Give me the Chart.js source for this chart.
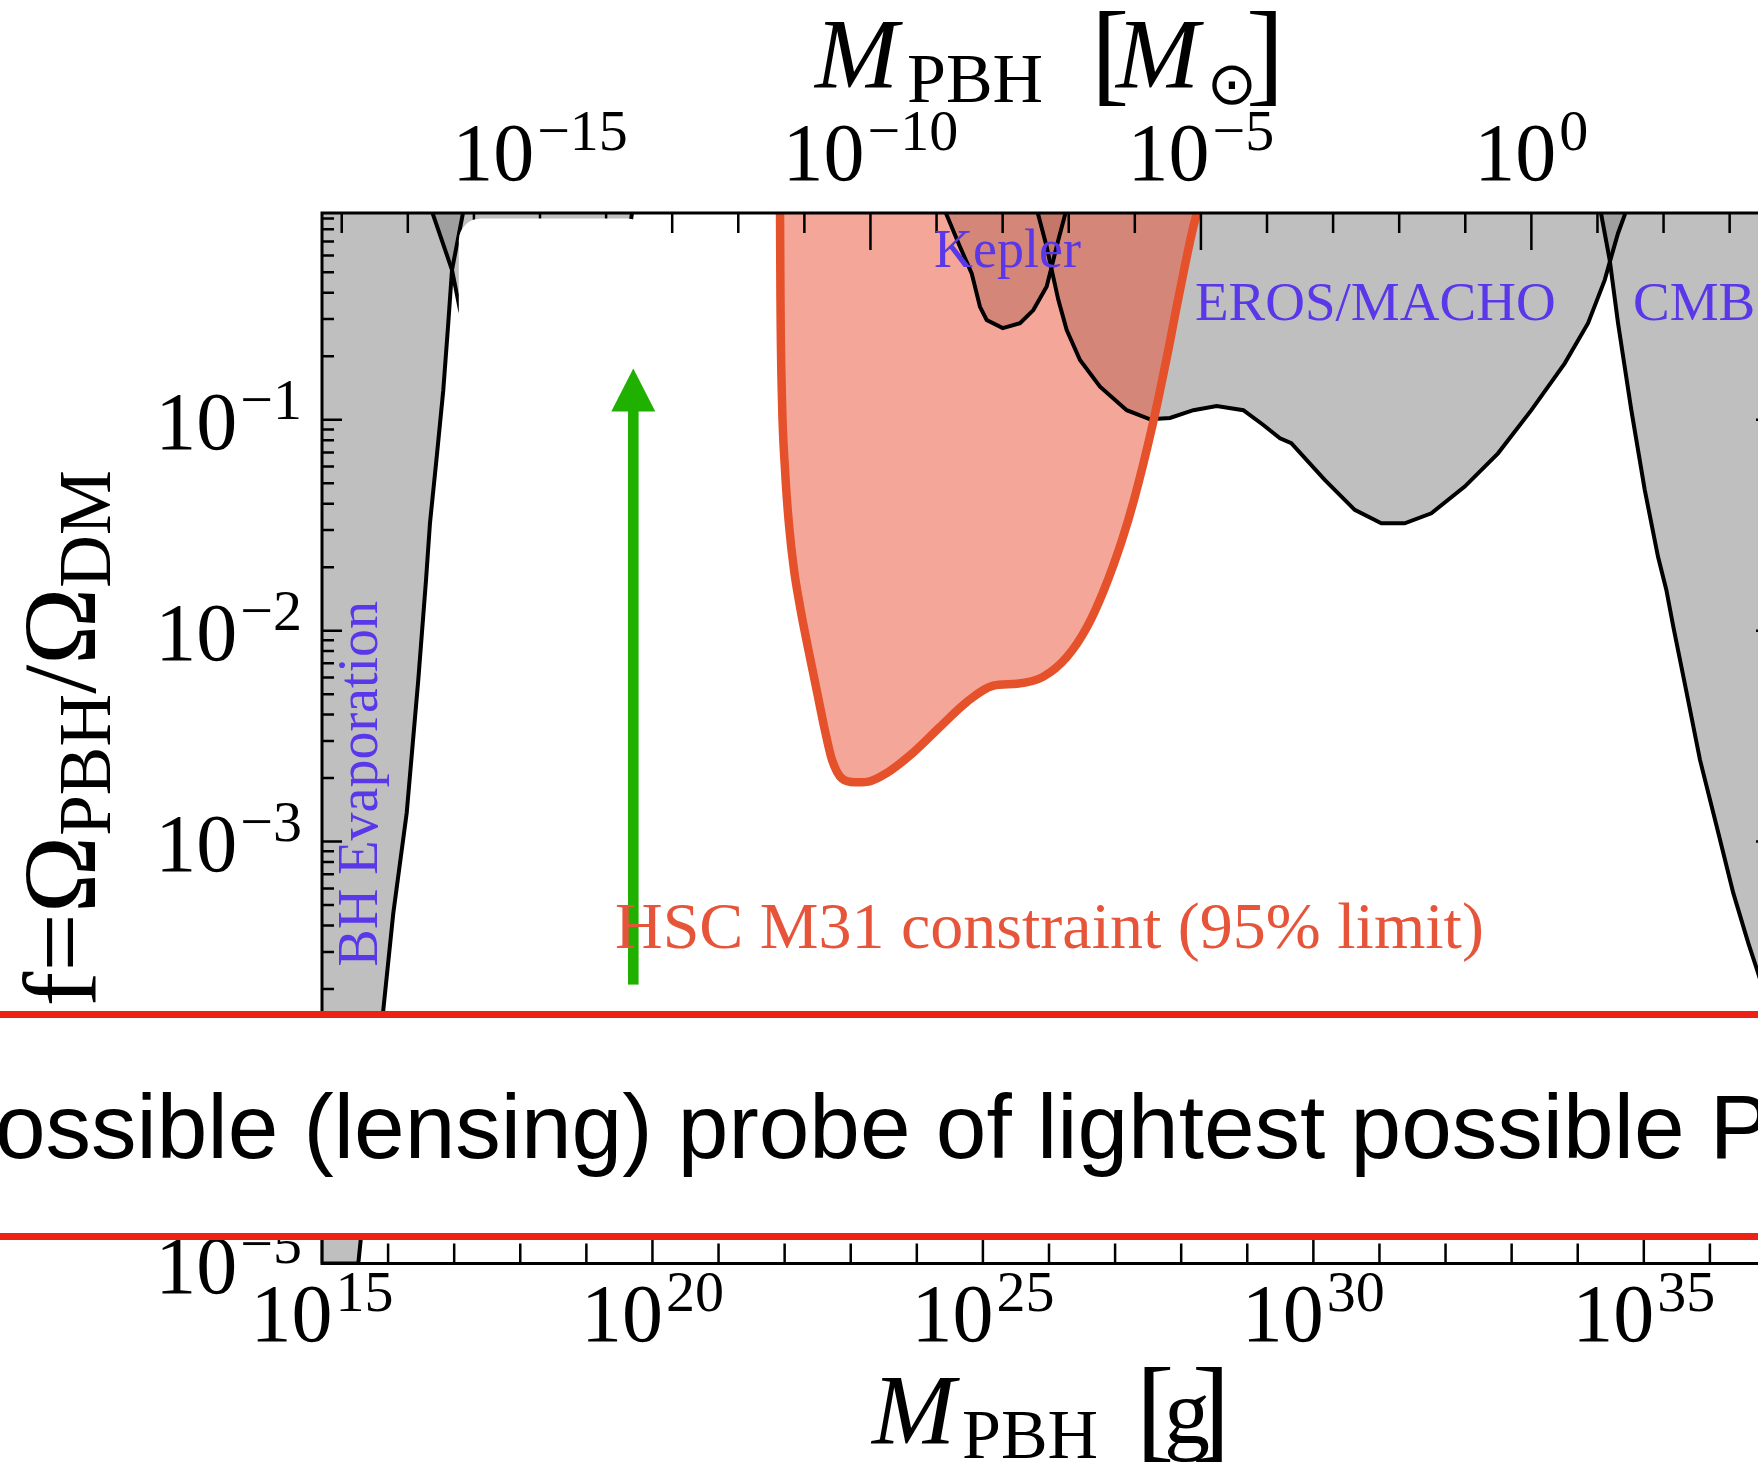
<!DOCTYPE html>
<html>
<head>
<meta charset="utf-8">
<script src="https://cdn.jsdelivr.net/npm/chart.js@4.4.1/dist/chart.umd.min.js"></script>
<style>
  html, body { margin: 0; padding: 0; background: #fff; overflow: hidden; }
  body { width: 1758px; height: 1464px; position: relative; }
  #wrap { position: absolute; left: 0; top: 0; width: 1800px; height: 1464px; }
  #band { position: absolute; left: 0; top: 1011px; width: 1758px; height: 229px; background: #fff; overflow: hidden; }
  .redline { position: absolute; left: 0; width: 100%; height: 7px; background: #ec2214; }
  #bandText { position: absolute; left: -5px; top: 70px; font-family: "Liberation Sans", Arial, sans-serif; font-size: 91px; line-height: 91px; white-space: nowrap; color: #000; }
</style>
</head>
<body>
<div id="wrap"><canvas id="pbhChart" width="1800" height="1464"></canvas></div>
<div id="band">
  <div class="redline" style="top:0"></div>
  <div id="bandText">ossible (lensing) probe of lightest possible P</div>
  <div class="redline" style="top:222px"></div>
</div>
<script>
const MSUN_G = 1.989e33;

// constraint curves: log10(M / g) and f = Omega_PBH / Omega_DM
const hscLogM = [21.93, 21.937, 21.96, 22.006, 22.066, 22.142, 22.233, 22.354, 22.49, 22.611, 22.717, 22.868, 23.065, 23.246, 23.549, 23.942, 24.351, 24.759, 25.153, 25.516, 25.909, 26.273, 26.575, 26.832, 27.105, 27.286, 27.574, 27.785, 27.982, 28.239, 28.27];
const hscF = [1.0, 0.37, 0.124, 0.0578, 0.0317, 0.0194, 0.013, 0.00828, 0.00513, 0.00335, 0.00244, 0.00199, 0.00191, 0.00192, 0.00212, 0.00264, 0.0035, 0.0046, 0.00548, 0.0056, 0.00604, 0.00752, 0.0104, 0.0156, 0.0269, 0.0417, 0.0966, 0.199, 0.412, 0.955, 1.0];

const keplerLogM = [24.411, 24.452, 24.653, 24.83, 24.956, 25.057, 25.3, 25.561, 25.763, 25.965, 26.041, 26.141, 26.242, 26.257];
const keplerF = [1.0, 0.934, 0.661, 0.494, 0.343, 0.297, 0.272, 0.287, 0.331, 0.428, 0.532, 0.711, 0.935, 1.0];

const erosLogM = [25.803, 25.838, 25.965, 26.041, 26.141, 26.268, 26.469, 26.772, 27.176, 27.528, 27.831, 28.184, 28.537, 28.94, 29.243, 29.495, 29.666, 30.172, 30.626, 31.028, 31.382, 31.785, 32.29, 32.794, 33.298, 33.803, 34.156, 34.408, 34.508, 34.61, 34.711, 34.738];
const erosF = [1.0, 0.935, 0.661, 0.513, 0.37, 0.266, 0.192, 0.1435, 0.111, 0.1005, 0.102, 0.111, 0.116, 0.111, 0.0944, 0.0817, 0.0774, 0.0519, 0.0374, 0.0323, 0.0323, 0.036, 0.0482, 0.0693, 0.111, 0.185, 0.287, 0.459, 0.593, 0.766, 0.935, 1.0];

const cmbLogM = [34.345, 34.357, 34.484, 34.61, 34.811, 35.014, 35.215, 35.341, 35.446, 35.649, 35.85, 36.103, 36.354, 36.581, 36.713, 37.0];
const cmbF = [1.0, 0.935, 0.571, 0.287, 0.111, 0.0465, 0.0224, 0.0156, 0.01044, 0.00506, 0.00244, 0.00118, 0.00057, 0.00033, 0.000247, 0.000127];

const bhEvapLogM = [15.0, 15.549, 15.741, 15.928, 16.079, 16.282, 16.457, 16.574, 16.634, 16.736, 16.835, 16.911, 16.967, 17.133, 17.145];
const bhEvapF = [1e-5, 1e-5, 3.86e-5, 1.6e-4, 4.59e-4, 1.37e-3, 5.85e-3, 0.0174, 0.0324, 0.0667, 0.138, 0.288, 0.513, 0.955, 1.0];

// constraint that is mostly covered by the white patch in the picture
const coveredLogM = [16.65, 16.967, 17.088, 17.315, 17.618, 17.996, 18.6, 19.206, 19.5, 19.7];
const coveredF = [1.0, 0.513, 0.331, 0.2, 0.14, 0.125, 0.125, 0.16, 0.37, 1.0];

// axes
const xRangeLog = [15, 37];
const yRange = [1e-5, 0.955];
const gramTickExps = [15, 20, 25, 30, 35];
const sunTickExps = [-15, -10, -5, 0];
const fTickExps = [-1, -2, -3, -4, -5];

// annotations (log10 M, f)
const arrowLogM = 19.71;
const arrowF = [2.1e-4, 0.175];
const patchLogM = [17.07, 19.95];
const patchF = [0.9, 0.11];

const SERIF = '"Liberation Serif", "DejaVu Serif", serif';
const BLUE = "#5a37e8";
const GRAY = "rgba(128,128,128,0.5)";

const regionLabels = [
  { text: "Kepler", logM: 24.26, f: 0.53, size: 54, color: BLUE },
  { text: "EROS/MACHO", logM: 28.209, f: 0.297, size: 55, color: BLUE },
  { text: "CMB", logM: 34.836, f: 0.297, size: 55, color: BLUE },
  { text: "HSC M31 constraint (95% limit)", logM: 19.433, f: 3.14e-4, size: 66, color: "#e6553a" },
  { text: "BH Evaporation", logM: 15.832, f: 2.56e-4, size: 56, color: BLUE, rotate: true },
];

const toPts = (lm, f) => lm.map((m, i) => ({ x: 10 ** m, y: f[i] }));

function region(label, lm, f, extra) {
  return Object.assign({
    label: label,
    data: toPts(lm, f),
    borderColor: "#000",
    borderWidth: 4,
    backgroundColor: GRAY,
    fill: "end",
    pointRadius: 0,
    tension: 0,
  }, extra);
}

const minus = (n) => (n < 0 ? "\u2212" + (-n) : String(n));

function powLabel(ctx, exp, x, yb, align) {
  const baseFont = "82px " + SERIF, expFont = "58px " + SERIF;
  ctx.font = baseFont;
  const w1 = ctx.measureText("10").width;
  ctx.font = expFont;
  const w2 = ctx.measureText(exp).width;
  const tot = w1 + 3 + w2;
  const x0 = align === "right" ? x - tot : x - tot / 2;
  ctx.textAlign = "left";
  ctx.font = baseFont;
  ctx.fillText("10", x0, yb);
  ctx.font = expFont;
  ctx.fillText(exp, x0 + w1 + 3, yb - 30);
}

function drawRuns(ctx, parts, x, y) {
  let cx = x;
  for (const p of parts) {
    ctx.font = p.font;
    ctx.fillText(p.text, cx, y + (p.dy || 0));
    cx += ctx.measureText(p.text).width;
  }
}
function runsWidth(ctx, parts) {
  let w = 0;
  for (const p of parts) { ctx.font = p.font; w += ctx.measureText(p.text).width; }
  return w;
}

const pbhAxes = {
  id: "pbhAxes",
  afterDraw(chart) {
    const { ctx, chartArea: a, scales: { x, y } } = chart;
    ctx.save();
    ctx.textBaseline = "alphabetic";

    // ticks, pointing inwards
    ctx.strokeStyle = "#000";
    ctx.lineWidth = 2.5;
    ctx.beginPath();
    for (let e = xRangeLog[0]; e <= xRangeLog[1]; e++) {
      const px = x.getPixelForValue(10 ** e);
      const len = e % 5 === 0 ? 37 : 20;
      ctx.moveTo(px, a.bottom); ctx.lineTo(px, a.bottom - len);
    }
    for (let e = -18; e <= 3; e++) {
      const px = x.getPixelForValue(10 ** e * MSUN_G);
      if (px < a.left || px > a.right) continue;
      const len = e % 5 === 0 ? 37 : 20;
      ctx.moveTo(px, a.top); ctx.lineTo(px, a.top + len);
    }
    for (let e = -5; e <= 0; e++) {
      for (let k = 1; k <= 9; k++) {
        const v = k * 10 ** e;
        if (v < yRange[0] * 0.999 || v > yRange[1]) continue;
        const py = y.getPixelForValue(v);
        const len = k === 1 ? 20 : 12;
        ctx.moveTo(a.left, py); ctx.lineTo(a.left + len, py);
        ctx.moveTo(a.right, py); ctx.lineTo(a.right - len, py);
      }
    }
    ctx.stroke();

    // frame
    ctx.lineWidth = 3;
    ctx.strokeRect(a.left, a.top, a.right - a.left, a.bottom - a.top);

    // white patch hiding part of the plot
    const px0 = x.getPixelForValue(10 ** patchLogM[0]);
    const px1 = x.getPixelForValue(10 ** patchLogM[1]);
    const py0 = y.getPixelForValue(patchF[0]);
    const py1 = y.getPixelForValue(patchF[1]);
    ctx.fillStyle = "#fff";
    ctx.beginPath();
    ctx.roundRect(px0, py0, px1 - px0, py1 - py0, 22);
    ctx.fill();

    // green arrow
    const ax = x.getPixelForValue(10 ** arrowLogM);
    const ay0 = y.getPixelForValue(arrowF[0]);
    const ay1 = y.getPixelForValue(arrowF[1]);
    ctx.fillStyle = "#1fb000";
    ctx.fillRect(ax - 5.3, ay1 + 40, 10.6, ay0 - ay1 - 40);
    ctx.beginPath();
    ctx.moveTo(ax, ay1);
    ctx.lineTo(ax + 22, ay1 + 43);
    ctx.lineTo(ax - 22, ay1 + 43);
    ctx.closePath();
    ctx.fill();

    // tick labels
    ctx.fillStyle = "#000";
    for (const e of gramTickExps) powLabel(ctx, String(e), x.getPixelForValue(10 ** e), a.bottom + 77, "center");
    for (const e of sunTickExps) powLabel(ctx, minus(e), x.getPixelForValue(10 ** e * MSUN_G), a.top - 33, "center");
    for (const e of fTickExps) powLabel(ctx, minus(e), a.left - 20, y.getPixelForValue(10 ** e) + 29, "right");

    // axis titles
    const it100 = "italic 100px " + SERIF, r70 = "70px " + SERIF, br = "115px " + SERIF;
    ctx.textAlign = "left";
    ctx.font = it100; ctx.fillText("M", 815, 87);
    ctx.font = r70; ctx.fillText("PBH", 907, 102);
    ctx.font = br; ctx.fillText("[", 1091, 91);
    ctx.font = it100; ctx.fillText("M", 1116, 87);
    ctx.font = '60px "DejaVu Sans", sans-serif'; ctx.textAlign = "center"; ctx.fillText("\u2299", 1232, 104);
    ctx.font = br; ctx.textAlign = "left"; ctx.fillText("]", 1246, 91);

    ctx.font = it100; ctx.fillText("M", 872, 1443);
    ctx.font = r70; ctx.fillText("PBH", 962, 1458);
    ctx.font = br; ctx.fillText("[", 1136, 1447);
    ctx.font = "92px " + SERIF; ctx.fillText("g", 1164, 1443);
    ctx.font = br; ctx.fillText("]", 1192, 1447);

    const r104 = "104px " + SERIF, r73 = "73px " + SERIF;
    const yTitle = [
      { text: "f", font: r104 }, { text: "=", font: r104 }, { text: "\u03A9", font: r104 },
      { text: "PBH", font: r73, dy: 15 }, { text: "/", font: r104 }, { text: "\u03A9", font: r104 },
      { text: "DM", font: r73, dy: 15 },
    ];
    ctx.save();
    ctx.translate(95, (a.top + a.bottom) / 2);
    ctx.rotate(-Math.PI / 2);
    ctx.textAlign = "left";
    drawRuns(ctx, yTitle, -runsWidth(ctx, yTitle) / 2, 0);
    ctx.restore();

    // region labels
    for (const l of regionLabels) {
      const lx = x.getPixelForValue(10 ** l.logM), ly = y.getPixelForValue(l.f);
      ctx.font = l.size + "px " + SERIF;
      ctx.fillStyle = l.color;
      ctx.textAlign = "left";
      if (l.rotate) {
        ctx.save();
        ctx.translate(lx, ly);
        ctx.rotate(-Math.PI / 2);
        ctx.fillText(l.text, 0, 0);
        ctx.restore();
      } else {
        ctx.fillText(l.text, lx, ly);
      }
    }
    ctx.restore();
  },
};

new Chart(document.getElementById("pbhChart"), {
  type: "line",
  data: {
    datasets: [
      region("HSC M31", hscLogM, hscF, {
        borderColor: "#e5512a",
        borderWidth: 8.5,
        backgroundColor: "rgba(233,79,49,0.5)",
        cubicInterpolationMode: "monotone",
      }),
      region("Kepler", keplerLogM, keplerF),
      region("EROS/MACHO", erosLogM, erosF),
      region("CMB", cmbLogM, cmbF),
      region("BH Evaporation", bhEvapLogM, bhEvapF),
      region("covered", coveredLogM, coveredF),
    ],
  },
  options: {
    responsive: false,
    devicePixelRatio: 1,
    animation: false,
    layout: { padding: { left: 322, top: 213, right: 24, bottom: 200.5 } },
    scales: {
      x: { type: "logarithmic", min: 10 ** xRangeLog[0], max: 10 ** xRangeLog[1], bounds: "data", display: false },
      y: { type: "logarithmic", min: yRange[0], max: yRange[1], bounds: "data", display: false },
    },
    plugins: {
      legend: { display: false },
      tooltip: { enabled: false },
      filler: { drawTime: "beforeDatasetsDraw", propagate: false },
    },
  },
  plugins: [pbhAxes],
});
</script>
</body>
</html>
